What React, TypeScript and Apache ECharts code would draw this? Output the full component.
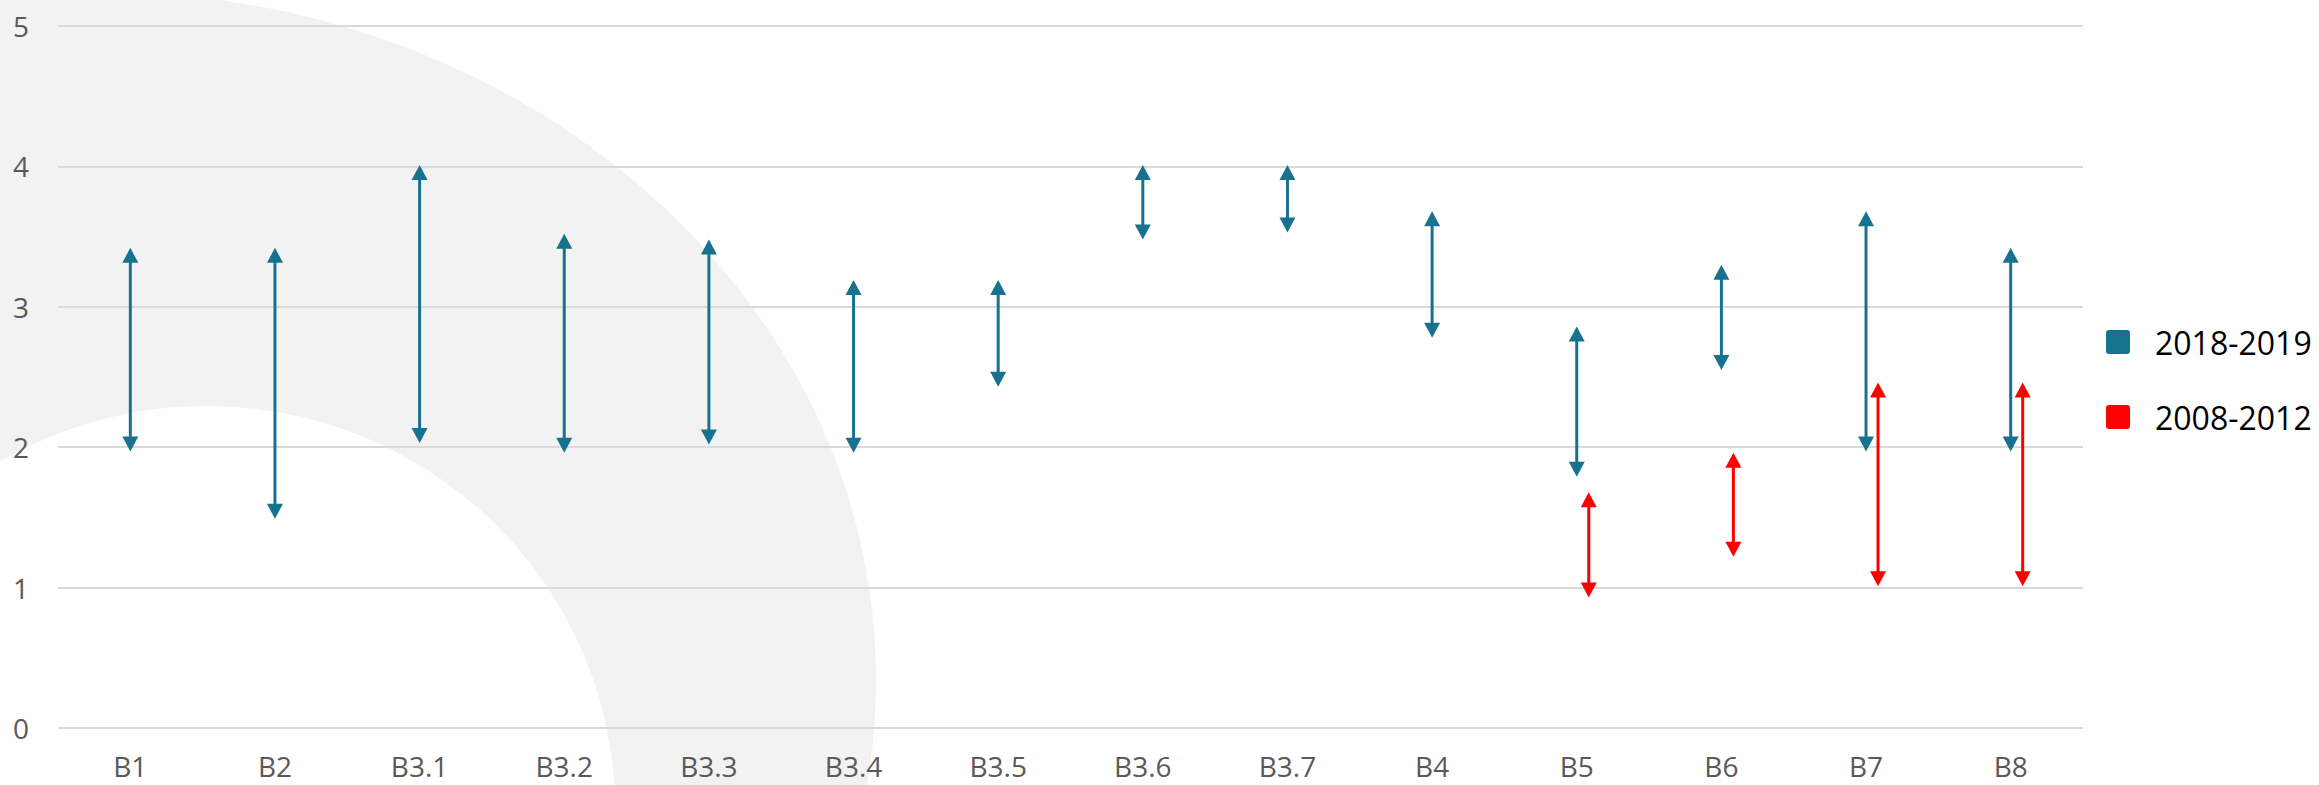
import React, { useEffect, useRef } from "react";
import * as echarts from "echarts";

const categories = ["B1", "B2", "B3.1", "B3.2", "B3.3", "B3.4", "B3.5", "B3.6", "B3.7", "B4", "B5", "B6", "B7", "B8"];
const recentHigh = [3.42, 3.42, 4.01, 3.52, 3.48, 3.19, 3.19, 4.01, 4.01, 3.68, 2.86, 3.3, 3.68, 3.42];
const recentLow = [1.97, 1.49, 2.03, 1.96, 2.02, 1.96, 2.43, 3.48, 3.53, 2.78, 1.79, 2.55, 1.97, 1.97];
const earlierHigh = [null, null, null, null, null, null, null, null, null, null, 1.68, 1.96, 2.46, 2.46];
const earlierLow = [null, null, null, null, null, null, null, null, null, null, 0.93, 1.22, 1.01, 1.01];
const yTicks = [0, 1, 2, 3, 4, 5];

const BLUE = "#17728f";
const RED = "#ff0000";
const FONT = "'Open Sans', sans-serif";
const SQUARE_ICON =
  "path://M3,0 L21,0 Q24,0 24,3 L24,21 Q24,24 21,24 L3,24 Q0,24 0,21 L0,3 Q0,0 3,0 Z";

function toData(low: (number | null)[], high: (number | null)[]) {
  const out: number[][] = [];
  categories.forEach((_, i) => {
    const l = low[i];
    const h = high[i];
    if (l != null && h != null) out.push([i, l, h]);
  });
  return out;
}

function makeRender(color: string, offset: number) {
  return (params: any, api: any) => {
    const cx = api.coord([api.value(0), 0])[0] + offset;
    const yTop = api.coord([api.value(0), api.value(2)])[1];
    const yBot = api.coord([api.value(0), api.value(1)])[1];
    const h = 15;
    const w = 8;
    return {
      type: "group",
      children: [
        {
          type: "line",
          shape: { x1: cx, y1: yTop + h - 1, x2: cx, y2: yBot - h + 1 },
          style: { stroke: color, lineWidth: 3 },
        },
        {
          type: "polygon",
          shape: { points: [[cx, yTop], [cx - w, yTop + h], [cx + w, yTop + h]] },
          style: { fill: color },
        },
        {
          type: "polygon",
          shape: { points: [[cx, yBot], [cx - w, yBot - h], [cx + w, yBot - h]] },
          style: { fill: color },
        },
      ],
    };
  };
}

export default function App() {
  const ref = useRef<HTMLDivElement>(null);
  useEffect(() => {
    if (!ref.current) return;
    const chart = echarts.init(ref.current, null, { renderer: "svg" });
    chart.setOption({
      animation: false,
      backgroundColor: "#ffffff",
      graphic: [
        {
          type: "ellipse",
          silent: true,
          z: -10,
          shape: { cx: 100, cy: 680, rx: 776, ry: 688 },
          style: { fill: "#f2f2f2" },
        },
        {
          type: "ellipse",
          silent: true,
          z: -9,
          shape: { cx: 207, cy: 810, rx: 408, ry: 404 },
          style: { fill: "#ffffff" },
        },
      ],
      grid: { left: 58, right: 236, top: 26, bottom: 57, containLabel: false },
      legend: {
        orient: "vertical",
        left: 2101,
        top: 321,
        itemWidth: 24,
        itemHeight: 24,
        itemGap: 43,
        icon: SQUARE_ICON,
        textStyle: { fontSize: 32, color: "#000000", fontFamily: FONT, padding: [0, 0, 0, 20], lineHeight: 32 },
        data: ["2018-2019", "2008-2012"],
      },
      xAxis: {
        type: "category",
        data: categories,
        axisLine: { show: false },
        axisTick: { show: false },
        axisLabel: { color: "#595959", fontSize: 28, fontFamily: FONT, margin: 24 },
        splitLine: { show: false },
      },
      yAxis: {
        type: "value",
        min: yTicks[0],
        max: yTicks[yTicks.length - 1],
        interval: 1,
        axisLine: { show: false },
        axisTick: { show: false },
        axisLabel: { color: "#595959", fontSize: 28, fontFamily: FONT, margin: 29 },
        splitLine: { lineStyle: { color: "#d9d9d9", width: 2 } },
      },
      series: [
        {
          name: "2018-2019",
          type: "custom",
          itemStyle: { color: BLUE },
          encode: { x: 0, y: [1, 2] },
          data: toData(recentLow, recentHigh),
          renderItem: makeRender(BLUE, 0),
        },
        {
          name: "2008-2012",
          type: "custom",
          itemStyle: { color: RED },
          encode: { x: 0, y: [1, 2] },
          data: toData(earlierLow, earlierHigh),
          renderItem: makeRender(RED, 12),
        },
      ],
    });
    return () => chart.dispose();
  }, []);
  return (
    <div
      ref={ref}
      style={{ position: "fixed", left: 0, top: 0, width: 2319, height: 785 }}
    />
  );
}
